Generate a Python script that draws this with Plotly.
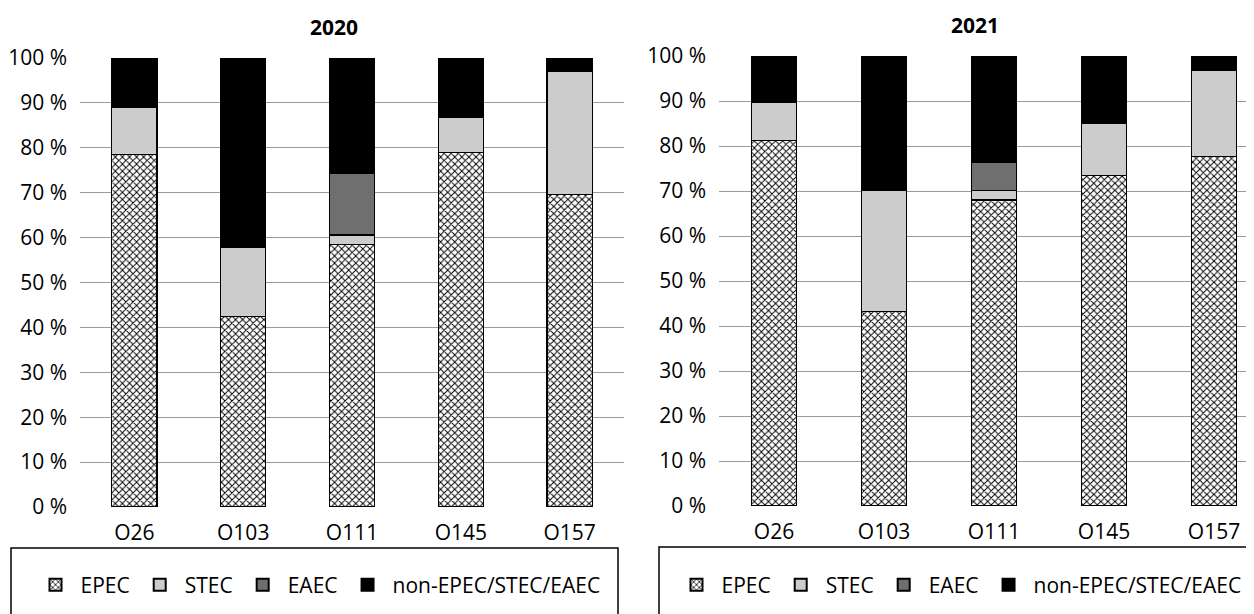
import plotly.graph_objects as go

categories = ["O26", "O103", "O111", "O145", "O157"]
series_names = ["EPEC", "STEC", "EAEC", "non-EPEC/STEC/EAEC"]

epec_2020 = [78.5, 42.4, 58.4, 79.0, 69.6]
stec_2020 = [10.6, 15.4, 2.2, 7.7, 27.4]
eaec_2020 = [0.0, 0.0, 13.7, 0.0, 0.0]
non_2020 = [10.9, 42.2, 25.7, 13.3, 3.0]

epec_2021 = [81.3, 43.3, 68.0, 73.4, 77.7]
stec_2021 = [8.4, 26.9, 2.1, 11.6, 19.2]
eaec_2021 = [0.0, 0.0, 6.3, 0.0, 0.0]
non_2021 = [10.3, 29.8, 23.6, 15.0, 3.1]

tick_vals = [0, 10, 20, 30, 40, 50, 60, 70, 80, 90, 100]
tick_text = [f"{v} %" for v in tick_vals]

FONT = "Open Sans"
FS = 21
colors = ["white", "#cccccc", "#6f6f6f", "#000000"]

fig = go.Figure()

def add_year(vals, xa, ya, leg):
    for i, (name, v) in enumerate(zip(series_names, vals)):
        marker = dict(color=colors[i], line=dict(color="black", width=1.2))
        if i == 0:
            marker["pattern"] = dict(shape="x", fgcolor="black", bgcolor="white",
                                     size=5, solidity=0.35, fillmode="replace")
        fig.add_trace(go.Bar(
            x=categories, y=v, name=name, xaxis=xa, yaxis=ya,
            marker=marker, width=0.415, legend=leg, showlegend=True,
        ))

add_year([epec_2020, stec_2020, eaec_2020, non_2020], "x", "y", "legend")
add_year([epec_2021, stec_2021, eaec_2021, non_2021], "x2", "y2", "legend2")

W, H = 1254, 614
OFF = 8  # page body offset of the figure

def px_x(p):
    return (p - OFF) / W

def px_y(p):
    return (H - (p - OFF)) / H

axis_common = dict(showgrid=False, showline=False, ticks="", zeroline=False,
                   automargin=False, type="category", ticklabelstandoff=11,
                   tickfont=dict(family=FONT, size=FS, color="black"))
yaxis_common = dict(range=[0, 100], tickvals=tick_vals, ticktext=tick_text,
                    showgrid=True, gridcolor="#9a9a9a", gridwidth=1,
                    zeroline=False, showline=False, ticks="", automargin=False,
                    ticklabelstandoff=12,
                    tickfont=dict(family=FONT, size=FS, color="black"))

legend_common = dict(orientation="h", yanchor="middle", xanchor="center",
                     font=dict(family=FONT, size=FS, color="black"),
                     bgcolor="rgba(0,0,0,0)", borderwidth=0, traceorder="normal",
                     itemsizing="constant", itemwidth=40)

x2_start = 719
fig.update_layout(
    template="none",
    width=W, height=H, autosize=False,
    margin=dict(l=0, r=0, t=0, b=0, pad=0, autoexpand=False),
    paper_bgcolor="white", plot_bgcolor="white",
    barmode="stack",
    font=dict(family=FONT, size=FS, color="black"),
    xaxis=dict(domain=[px_x(80), px_x(624)], range=[-0.5, 4.5], anchor="y", **axis_common),
    yaxis=dict(domain=[px_y(507), px_y(58)], anchor="x", **yaxis_common),
    xaxis2=dict(domain=[px_x(x2_start), 1.0],
                range=[-0.5, -0.5 + (W + OFF - x2_start) / 110], anchor="y2", **axis_common),
    yaxis2=dict(domain=[px_y(506), px_y(56)], anchor="x2", **yaxis_common),
    legend=dict(x=px_x(318), y=px_y(585), **legend_common),
    legend2=dict(x=px_x(959), y=px_y(585), **legend_common),
    showlegend=True,
    annotations=[
        dict(text="<b>2020</b>", x=px_x(334), y=px_y(27), xref="paper", yref="paper",
             xanchor="center", yanchor="middle",
             showarrow=False, font=dict(family=FONT, size=FS, color="black")),
        dict(text="<b>2021</b>", x=px_x(975), y=px_y(25), xref="paper", yref="paper",
             xanchor="center", yanchor="middle",
             showarrow=False, font=dict(family=FONT, size=FS, color="black")),
    ],
    shapes=[
        dict(type="rect", xref="paper", yref="paper", x0=px_x(11), x1=px_x(618),
             y0=-0.05, y1=px_y(548), line=dict(color="black", width=1.5)),
        dict(type="rect", xref="paper", yref="paper", x0=px_x(659), x1=1.05,
             y0=-0.05, y1=px_y(547), line=dict(color="black", width=1.5)),
    ],
)

fig.write_html("out.html")
